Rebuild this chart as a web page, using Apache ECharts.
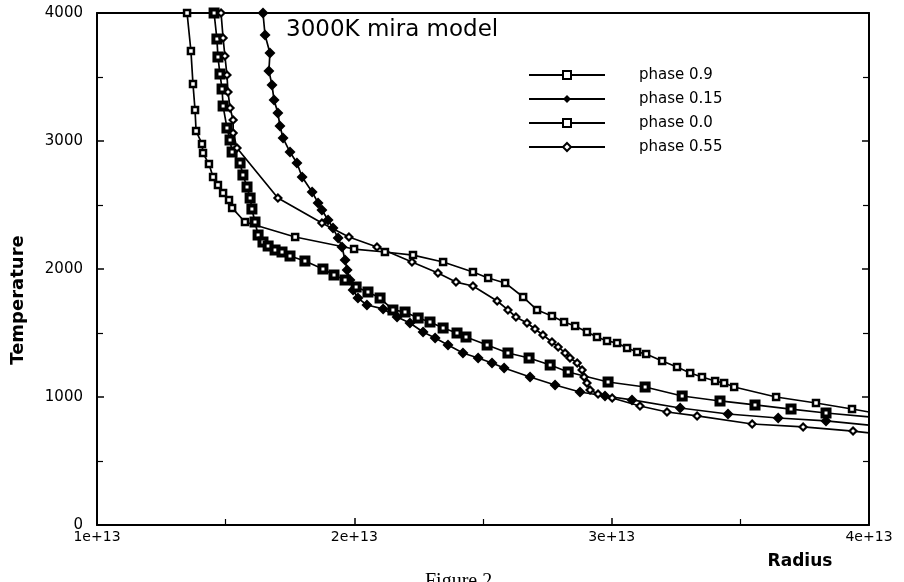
<!DOCTYPE html>
<html>
<head>
<meta charset="utf-8">
<title>3000K mira model</title>
<script src="https://cdn.jsdelivr.net/npm/echarts@6/dist/echarts.min.js"></script>
<style>
  html, body { margin: 0; padding: 0; background: #ffffff; }
  #chart { width: 904px; height: 582px; }
</style>
</head>
<body>
<div id="chart"></div>
<script>
// radius in units of 1e13, temperature in K
var xTicks = [1, 2, 3, 4]
var yTicks = [0, 1000, 2000, 3000, 4000]
var seriesNames = ['phase 0.9', 'phase 0.15', 'phase 0.0', 'phase 0.55']

var phase09R = [1.350, 1.365, 1.373, 1.381, 1.385, 1.408, 1.412, 1.435, 1.451, 1.470, 1.490, 1.513, 1.525, 1.575,
  1.770, 1.999, 2.119, 2.228, 2.345, 2.461, 2.520, 2.586, 2.656, 2.710, 2.768, 2.815, 2.858, 2.904, 2.943,
  2.982, 3.021, 3.060, 3.099, 3.134, 3.196, 3.254, 3.305, 3.351, 3.402, 3.437, 3.476, 3.639, 3.794, 3.934, 4.0]
var phase09T = [4000, 3703, 3445, 3242, 3078, 2977, 2906, 2820, 2719, 2656, 2594, 2539, 2477, 2367,
  2250, 2156, 2133, 2109, 2055, 1977, 1930, 1891, 1781, 1680, 1633, 1586, 1555, 1508, 1469,
  1438, 1422, 1383, 1352, 1336, 1281, 1234, 1188, 1156, 1125, 1109, 1078, 1000, 953, 906, 883]

var phase015R = [1.645, 1.653, 1.672, 1.668, 1.680, 1.688, 1.703, 1.711, 1.723, 1.750, 1.777, 1.797, 1.836, 1.859,
  1.874, 1.898, 1.917, 1.937, 1.952, 1.964, 1.972, 1.983, 1.995, 2.014, 2.049, 2.112, 2.166, 2.216, 2.267,
  2.314, 2.364, 2.422, 2.481, 2.535, 2.582, 2.683, 2.780, 2.877, 2.974, 3.079, 3.266, 3.452, 3.647, 3.833, 4.0]
var phase015T = [4000, 3828, 3688, 3547, 3438, 3320, 3219, 3117, 3023, 2914, 2828, 2719, 2602, 2516,
  2461, 2383, 2320, 2242, 2172, 2070, 1992, 1914, 1836, 1773, 1719, 1688, 1625, 1578, 1508,
  1461, 1406, 1344, 1305, 1266, 1227, 1156, 1094, 1039, 1008, 977, 914, 867, 836, 813, 781]

var phase00R = [1.455, 1.466, 1.470, 1.478, 1.486, 1.490, 1.505, 1.517, 1.525, 1.556, 1.567, 1.583, 1.595, 1.602,
  1.614, 1.626, 1.645, 1.665, 1.692, 1.719, 1.750, 1.808, 1.878, 1.921, 1.964, 2.007, 2.053, 2.100, 2.150,
  2.197, 2.248, 2.294, 2.345, 2.399, 2.434, 2.516, 2.597, 2.679, 2.761, 2.831, 2.986, 3.130, 3.274, 3.421,
  3.557, 3.697, 3.833, 4.0]
var phase00T = [4000, 3797, 3656, 3523, 3406, 3273, 3102, 3008, 2914, 2828, 2734, 2641, 2555, 2469,
  2367, 2266, 2211, 2180, 2148, 2133, 2102, 2063, 2000, 1953, 1914, 1859, 1820, 1773, 1680,
  1664, 1617, 1586, 1539, 1500, 1469, 1406, 1344, 1305, 1250, 1195, 1117, 1078, 1008, 969,
  938, 906, 875, 844]

var phase055R = [1.482, 1.490, 1.497, 1.505, 1.509, 1.517, 1.529, 1.529, 1.544, 1.703, 1.874, 1.979, 2.088, 2.224,
  2.325, 2.395, 2.461, 2.555, 2.597, 2.628, 2.671, 2.702, 2.733, 2.768, 2.792, 2.819, 2.838, 2.866, 2.885,
  2.893, 2.904, 2.916, 2.947, 3.002, 3.110, 3.215, 3.332, 3.546, 3.744, 3.938, 4.0]
var phase055T = [4000, 3805, 3664, 3516, 3383, 3258, 3164, 3063, 2945, 2555, 2359, 2250, 2172, 2055,
  1969, 1898, 1867, 1750, 1680, 1625, 1578, 1531, 1484, 1430, 1391, 1344, 1305, 1266, 1211,
  1156, 1109, 1055, 1023, 992, 930, 883, 852, 789, 766, 734, 719]

function pairs(r, t) {
  return r.map(function (v, i) { return [v, t[i]] })
}

var chart = echarts.init(document.getElementById('chart'), null, { renderer: 'canvas' })

var baseFont = 'DejaVu Sans'
var axisCommon = {
  type: 'value',
  splitLine: { show: false },
  axisLine: { show: true, onZero: false, lineStyle: { color: '#000', width: 2 } },
  axisTick: { show: true, inside: true, length: 7, lineStyle: { color: '#000', width: 1.5 } },
  minorTick: { show: true, splitNumber: 2, length: 6, lineStyle: { color: '#000', width: 1.2 } }
}

function makeSeries(name, r, t, symbol, size, fill, border, borderW) {
  return {
    name: name,
    type: 'line',
    data: pairs(r, t),
    symbol: symbol,
    symbolSize: function (val) { return val[0] >= 4 ? 0 : size },
    showAllSymbol: true,
    clip: true,
    lineStyle: { color: '#000', width: 1.7 },
    itemStyle: { color: fill, borderColor: border, borderWidth: borderW },
    emphasis: { disabled: true },
    animation: false
  }
}

var option = {
  backgroundColor: '#ffffff',
  animation: false,
  textStyle: { fontFamily: baseFont, color: '#000' },
  title: {
    text: '3000K mira model',
    left: 281,
    top: 14,
    textStyle: { fontFamily: baseFont, fontSize: 23, fontWeight: 'normal', color: '#000' }
  },
  grid: { left: 97, right: 35, top: 13, bottom: 57 },
  legend: {
    orient: 'vertical',
    left: 523,
    top: 62,
    itemWidth: 76,
    itemHeight: 10,
    itemGap: 8,
    selectedMode: false,
    data: seriesNames,
    textStyle: { fontFamily: baseFont, fontSize: 15, color: '#000', lineHeight: 16, padding: [0, 0, 0, 29] }
  },
  xAxis: [
    Object.assign({}, axisCommon, {
      min: xTicks[0], max: xTicks[xTicks.length - 1], interval: 1,
      position: 'bottom',
      axisLabel: {
        color: '#000', fontSize: 14, margin: 5,
        formatter: function (v) { return v + 'e+13' }
      }
    }),
    Object.assign({}, axisCommon, {
      min: xTicks[0], max: xTicks[xTicks.length - 1], interval: 1,
      position: 'top',
      axisTick: { show: false }, minorTick: { show: false },
      axisLabel: { show: false }
    })
  ],
  yAxis: [
    Object.assign({}, axisCommon, {
      min: yTicks[0], max: yTicks[yTicks.length - 1], interval: 1000,
      position: 'left',
      axisLabel: {
        color: '#000', fontSize: 15, margin: 14,
        formatter: function (v) { return String(v) }
      }
    }),
    Object.assign({}, axisCommon, {
      min: yTicks[0], max: yTicks[yTicks.length - 1], interval: 1000,
      position: 'right',
      axisLabel: { show: false }
    })
  ],
  graphic: [
    {
      type: 'text', x: 18, y: 300, rotation: Math.PI / 2,
      style: { text: 'Temperature', font: 'bold 18px "DejaVu Sans"', fill: '#000', align: 'center', verticalAlign: 'middle' }
    },
    {
      type: 'text', x: 800, y: 562,
      style: { text: 'Radius', font: 'bold 17px "DejaVu Sans"', fill: '#000', align: 'center', verticalAlign: 'middle' }
    },
    {
      type: 'text', x: 425, y: 572,
      style: { text: 'Figure 2', font: '20px "Liberation Serif"', fill: '#000', align: 'left', verticalAlign: 'top' }
    }
  ],
  series: [
    makeSeries(seriesNames[0], phase09R, phase09T, 'rect', 6, '#fff', '#000', 2.5),
    makeSeries(seriesNames[1], phase015R, phase015T, 'diamond', 11, '#000', '#000', 0),
    makeSeries(seriesNames[2], phase00R, phase00T, 'rect', 7, '#fff', '#000', 4),
    makeSeries(seriesNames[3], phase055R, phase055T, 'diamond', 7, '#fff', '#000', 2.2)
  ]
}

chart.setOption(option)
</script>
</body>
</html>
